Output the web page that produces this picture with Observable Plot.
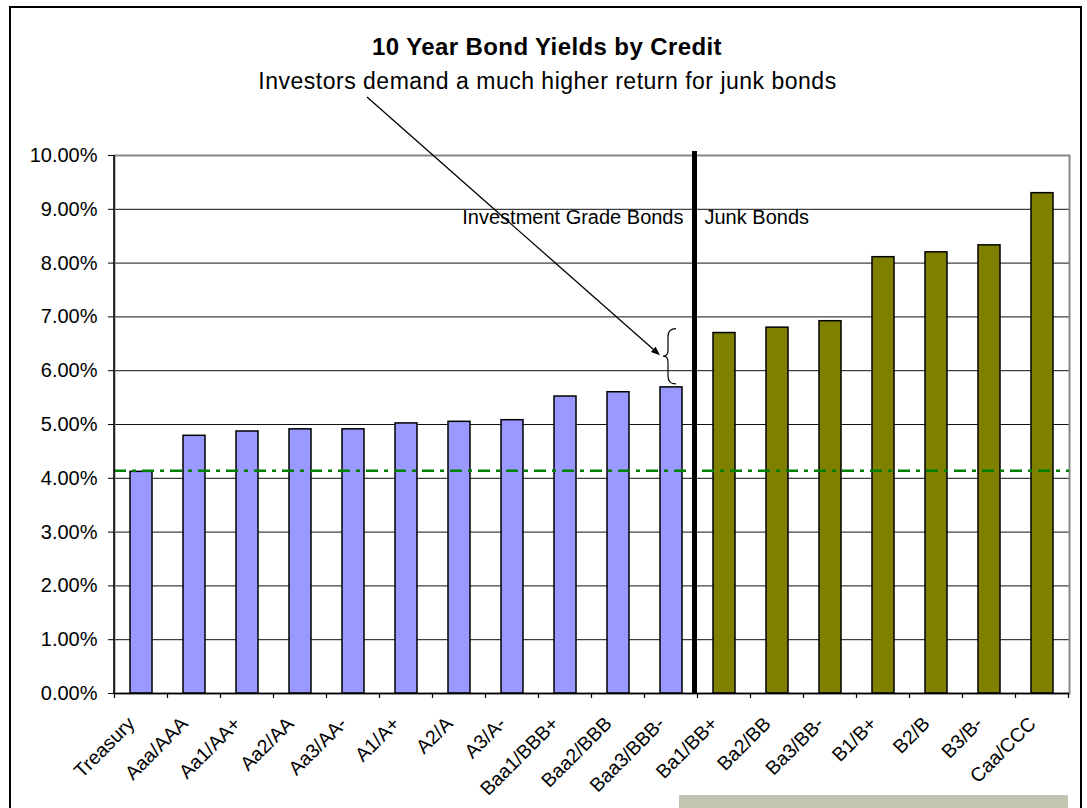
<!DOCTYPE html>
<html>
<head>
<meta charset="utf-8">
<script src="https://cdn.jsdelivr.net/npm/d3@7"></script>
<script src="https://cdn.jsdelivr.net/npm/@observablehq/plot@0.6"></script>
<style>
  html, body { margin: 0; padding: 0; background: #fff; }
  #wrap { position: relative; width: 1087px; height: 808px; overflow: hidden; font-family: "Liberation Sans", Arial, sans-serif; }
  #head { height: 100px; position: relative; }
  #title { position: absolute; left: 0; width: 1094px; top: 35px; text-align: center; font-weight: bold; font-size: 24px; line-height: 24px; color: #000; letter-spacing: 0.4px; }
  #subtitle { position: absolute; left: 0; width: 1095px; top: 70px; text-align: center; font-size: 23px; line-height: 23px; color: #000; letter-spacing: 0.5px; }
  #frame { position: absolute; left: 9px; top: 6px; width: 1073px; height: 830px; border: 2px solid #000; box-sizing: border-box; pointer-events: none; }
  #greybar { position: absolute; left: 679px; top: 795px; width: 389px; height: 20px; background: #c4c4b2; }
</style>
</head>
<body>
<div id="wrap">
  <div id="head">
    <div id="title">10 Year Bond Yields by Credit</div>
    <div id="subtitle">Investors demand a much higher return for junk bonds</div>
  </div>
  <div id="chart"></div>
  <div id="greybar"></div>
  <div id="frame"></div>
</div>
<script>
const categories = ["Treasury","Aaa/AAA","Aa1/AA+","Aa2/AA","Aa3/AA-","A1/A+","A2/A","A3/A-","Baa1/BBB+","Baa2/BBB","Baa3/BBB-","Ba1/BB+","Ba2/BB","Ba3/BB-","B1/B+","B2/B","B3/B-","Caa/CCC"];
const yields = [4.12,4.79,4.87,4.91,4.91,5.02,5.05,5.08,5.52,5.60,5.69,6.70,6.80,6.92,8.11,8.20,8.33,9.30];
const grades = ["Investment","Investment","Investment","Investment","Investment","Investment","Investment","Investment","Investment","Investment","Investment","Junk","Junk","Junk","Junk","Junk","Junk","Junk"];
const benchmark = 4.14;
const yTicks = [0,1,2,3,4,5,6,7,8,9,10];
const lastInvestment = "Baa3/BBB-";
const firstJunk = "Ba1/BB+";

const data = categories.map((c, i) => ({category: c, yield: yields[i], grade: grades[i]}));

const ns = "http://www.w3.org/2000/svg";
function el(name, attrs) {
  const e = document.createElementNS(ns, name);
  for (const k in attrs) e.setAttribute(k, attrs[k]);
  return e;
}
function bw(s) { return typeof s.bandwidth === "function" ? s.bandwidth() : s.bandwidth; }
function st(s) { return typeof s.step === "function" ? s.step() : (s.step || bw(s)); }

// axis lines and boundary ticks
function decor(index, scales, values, dim) {
  const g = el("g", {});
  const x = scales.x;
  const left = dim.marginLeft;
  const top = dim.marginTop, bottom = dim.height - dim.marginBottom;
  g.appendChild(el("line", {x1: left, x2: left, y1: top, y2: bottom, stroke: "#000", "stroke-width": 1.5}));
  const step = st(x), half = (step - bw(x)) / 2;
  const bounds = categories.map(c => x(c) - half).concat([x(categories[categories.length - 1]) + bw(x) + half]);
  for (const b of bounds) g.appendChild(el("line", {x1: b, x2: b, y1: bottom, y2: bottom + 5, stroke: "#000", "stroke-width": 1.2}));
  return g;
}

// brace showing the yield gap between the last investment grade and first junk bond
function brace(index, scales, values, dim) {
  const g = el("g", {});
  const x = scales.x, y = scales.y;
  const iLast = categories.indexOf(lastInvestment), iJunk = categories.indexOf(firstJunk);
  const cx = x(lastInvestment) + bw(x) / 2;
  const yTop = y(yields[iJunk]) - 4, yBot = y(yields[iLast]) - 3;
  const yMid = (yTop + yBot) / 2;
  const xr = cx + 5, xb = cx - 3, xt = cx - 8;
  const d = `M${xr},${yTop} Q${xb},${yTop} ${xb},${yTop + 8} L${xb},${yMid - 6} Q${xb},${yMid} ${xt},${yMid} Q${xb},${yMid} ${xb},${yMid + 6} L${xb},${yBot - 8} Q${xb},${yBot} ${xr},${yBot}`;
  g.appendChild(el("path", {d, fill: "none", stroke: "#000", "stroke-width": 1.2}));
  // arrow from the subtitle to the brace tip
  const x0 = 367, y0 = dim.marginTop - 58;
  const x1 = xt - 3, y1 = yMid - 1;
  const ang = Math.atan2(y1 - y0, x1 - x0);
  const len = 9, w = 3.5;
  const bx = x1 - len * Math.cos(ang), by = y1 - len * Math.sin(ang);
  g.appendChild(el("line", {x1: x0, y1: y0, x2: bx, y2: by, stroke: "#000", "stroke-width": 1.3}));
  const px = -Math.sin(ang) * w, py = Math.cos(ang) * w;
  g.appendChild(el("path", {d: `M${x1},${y1} L${bx + px},${by + py} L${bx - px},${by - py} Z`, fill: "#000"}));
  return g;
}

const plot = Plot.plot({
  width: 1087,
  height: 708,
  marginLeft: 114,
  marginRight: 18,
  marginTop: 55,
  marginBottom: 115,
  style: {background: "transparent", overflow: "visible", fontFamily: "'Liberation Sans', Arial, sans-serif", fontSize: "19px", color: "#000"},
  x: {domain: categories, paddingInner: 0.585, paddingOuter: 0.2925, label: null},
  y: {domain: [0, 10], label: null},
  color: {domain: ["Investment", "Junk"], range: ["#9999FF", "#808000"]},
  marks: [
    Plot.ruleY(yTicks.filter(t => t > 0 && t < 10), {stroke: "#111", strokeWidth: 1}),
    Plot.frame({stroke: "#888", strokeWidth: 2}),
    Plot.barY(data, {x: "category", y: "yield", fill: "grade", stroke: "#000", strokeWidth: 1.5}),
    Plot.ruleY([benchmark], {stroke: "#008000", strokeWidth: 2.5, strokeDasharray: "12,6,4,6"}),
    Plot.ruleX([firstJunk], {y1: 0, y2: 10, insetBottom: 4, dx: -30, stroke: "#000", strokeWidth: 5}),
    Plot.text(["Investment Grade Bonds"], {x: () => firstJunk, y: () => 9, dx: -41, textAnchor: "end", lineAnchor: "top", fontSize: 20, fill: "#000"}),
    Plot.text(["Junk Bonds"], {x: () => firstJunk, y: () => 9, dx: -20, textAnchor: "start", lineAnchor: "top", fontSize: 20, fill: "#000"}),
    brace,
    Plot.ruleY([0], {stroke: "#000", strokeWidth: 1.5}),
    decor,
    Plot.axisY({ticks: yTicks, tickFormat: d => d.toFixed(2) + "%", tickSize: 6, tickPadding: 11, fontSize: 20, stroke: "#000"}),
    Plot.axisX({tickSize: 0, tickPadding: 27, tickRotate: -45, dx: -10, fontSize: 19.5})
  ]
});
document.getElementById("chart").appendChild(plot);
</script>
</body>
</html>
